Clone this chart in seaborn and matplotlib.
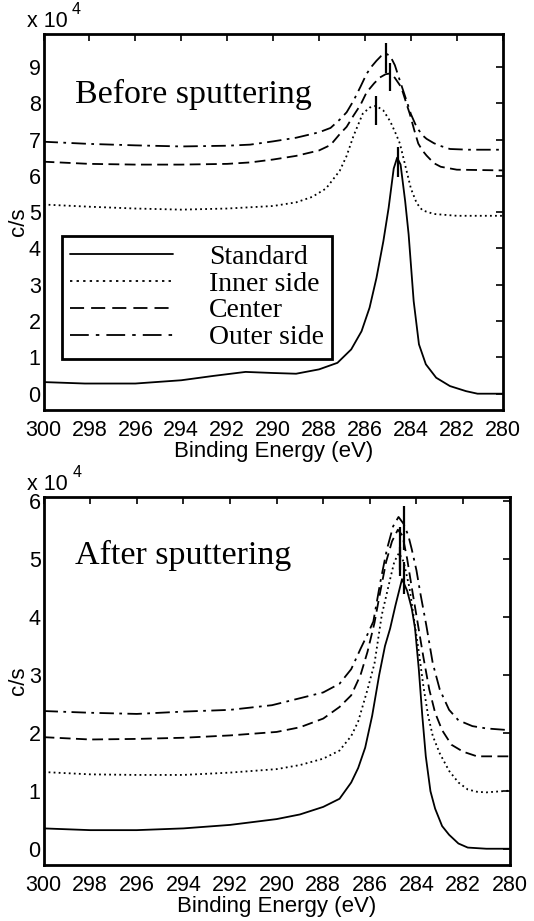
import numpy as np
import pandas as pd
import matplotlib
matplotlib.use("Agg")
import matplotlib.pyplot as plt
from matplotlib.lines import Line2D
import seaborn as sns

# ---- data (values in units of 1e4 c/s) ----
series_names = ["Standard", "Inner side", "Center", "Outer side"]

# Before sputtering
before_std_ev = [300, 298.2, 296, 294, 292.6, 291.2, 290, 289, 288, 287.2, 286.6, 286.15, 285.8, 285.5,
                 285.2, 284.97, 284.75, 284.6, 284.45, 284.25, 284.1, 283.88, 283.65, 283.35, 282.9,
                 282.3, 281.6, 281.1, 280]
before_std_cs = [0.32, 0.28, 0.28, 0.37, 0.49, 0.60, 0.57, 0.55, 0.67, 0.85, 1.22, 1.72, 2.37, 3.19,
                 4.2, 5.12, 6.2, 6.5, 6.31, 5.3, 4.39, 2.55, 1.36, 0.81, 0.44, 0.21, 0.07, 0.0, 0.0]

before_inner_ev = [300, 298, 296, 294, 292, 290, 289, 288.3, 287.7, 287.1, 286.8, 286.5, 286.1, 285.8,
                   285.52, 285.2, 284.9, 284.65, 284.48, 284.19, 284.0, 283.75, 283.5, 283, 282, 280]
before_inner_cs = [5.21, 5.15, 5.1, 5.07, 5.1, 5.17, 5.27, 5.42, 5.65, 6.14, 6.55, 7.1, 7.71, 7.88,
                   7.93, 7.8, 7.5, 7.15, 6.89, 6.14, 5.65, 5.25, 5.05, 4.95, 4.9, 4.9]

before_center_ev = [300, 298, 296, 294, 292, 291, 290, 289, 288, 287.5, 287.1, 286.8, 286.5, 286.2,
                    285.93, 285.6, 285.35, 285.1, 284.91, 284.7, 284.42, 284.2, 284.05, 283.85, 283.68,
                    283.5, 283.32, 283, 282.7, 282, 280]
before_center_cs = [6.39, 6.33, 6.31, 6.31, 6.33, 6.37, 6.45, 6.55, 6.7, 6.85, 7.15, 7.35, 7.66, 7.95,
                    8.3, 8.55, 8.71, 8.8, 8.82, 8.7, 8.44, 8.0, 7.71, 7.25, 6.89, 6.7, 6.56, 6.35,
                    6.25, 6.17, 6.15]

before_outer_ev = [300, 298, 296, 294, 292, 291, 290, 289, 288, 287.5, 287.1, 286.8, 286.5, 286.2,
                   285.93, 285.7, 285.5, 285.3, 285.09, 284.9, 284.7, 284.48, 284.19, 284, 283.75,
                   283.5, 283.32, 283, 282.74, 282.3, 281.5, 280]
before_outer_cs = [6.94, 6.88, 6.84, 6.81, 6.83, 6.86, 6.95, 7.05, 7.2, 7.32, 7.55, 7.75, 8.07, 8.45,
                   8.81, 9.02, 9.17, 9.3, 9.37, 9.3, 9.05, 8.62, 8.07, 7.7, 7.34, 7.12, 7.02, 6.9,
                   6.83, 6.74, 6.72, 6.72]

# After sputtering
after_std_ev = [300, 298, 296, 294, 292, 291, 290, 289, 288, 287.3, 286.8, 286.5, 286.2, 285.9, 285.6,
                285.35, 285.13, 284.9, 284.62, 284.4, 284.2, 284.06, 283.9, 283.75, 283.6, 283.4,
                283.2, 282.9, 282.6, 282.2, 281.8, 281, 280]
after_std_cs = [0.36, 0.33, 0.33, 0.36, 0.42, 0.47, 0.52, 0.6, 0.73, 0.87, 1.15, 1.4, 1.75, 2.3, 3.0,
                3.5, 3.8, 4.2, 4.65, 4.45, 4.14, 3.8, 3.1, 2.3, 1.6, 1.0, 0.7, 0.4, 0.25, 0.1, 0.03,
                0.01, 0.01]

after_inner_ev = [300, 298, 296, 294, 292, 290, 289, 288, 287.3, 286.8, 286.5, 286.1, 285.8, 285.49,
                  285.13, 284.95, 284.75, 284.55, 284.3, 284.1, 283.9, 283.7, 283.5, 283.3, 283,
                  282.6, 282.2, 281.8, 281.4, 281, 280]
after_inner_cs = [1.33, 1.29, 1.28, 1.28, 1.32, 1.38, 1.45, 1.56, 1.7, 1.95, 2.2, 2.75, 3.2, 4.03,
                  4.65, 4.95, 5.1, 4.95, 4.5, 3.95, 3.4, 2.8, 2.3, 1.95, 1.65, 1.35, 1.15, 1.03,
                  0.99, 0.98, 1.01]

after_center_ev = [300, 298, 296, 294, 292, 290, 289, 288, 287.3, 286.8, 286.4, 286.1, 285.8, 285.56,
                   285.3, 285.05, 284.8, 284.6, 284.4, 284.2, 283.95, 283.7, 283.45, 283.2, 282.9,
                   282.5, 282, 281.4, 280]
after_center_cs = [1.93, 1.89, 1.9, 1.92, 1.96, 2.02, 2.1, 2.25, 2.45, 2.65, 3.0, 3.4, 3.9, 4.42,
                   4.95, 5.3, 5.5, 5.4, 5.0, 4.5, 3.9, 3.3, 2.75, 2.35, 2.05, 1.8, 1.68, 1.6, 1.6]

after_outer_ev = [300, 298, 296, 294, 292, 290.2, 289, 288, 287.3, 286.8, 286.4, 286.1, 285.85,
                  285.55, 285.27, 285, 284.77, 284.55, 284.35, 284.2, 284, 283.84, 283.58, 283.3,
                  283, 282.6, 282.2, 281.6, 281, 280]
after_outer_cs = [2.38, 2.35, 2.33, 2.37, 2.4, 2.48, 2.6, 2.7, 2.85, 3.1, 3.45, 3.7, 3.92, 4.6,
                  5.16, 5.56, 5.72, 5.6, 5.4, 5.16, 4.8, 4.42, 3.86, 3.2, 2.75, 2.4, 2.22, 2.12,
                  2.08, 2.05]

# peak marker bars: position (eV), lower and upper end
before_mark_ev = [284.58, 285.52, 284.93, 285.09]
before_mark_lo = [5.96, 7.41, 8.33, 8.83]
before_mark_hi = [6.79, 8.21, 9.1, 9.66]
after_mark_ev = [284.52, 284.7, 284.7, 284.52]
after_mark_lo = [4.4, 4.7, 4.8, 5.15]
after_mark_hi = [4.95, 5.2, 5.55, 5.9]

x_ticks = list(range(300, 279, -2))

dash_map = {"Standard": "", "Inner side": (1, 1.8), "Center": (6, 3), "Outer side": (8, 3, 1.5, 3)}


def long_frame(pairs):
    frames = []
    for name, (ev, cs) in zip(series_names, pairs):
        frames.append(pd.DataFrame({"eV": ev, "cs": cs, "series": name}))
    return pd.concat(frames, ignore_index=True)


before_df = long_frame([(before_std_ev, before_std_cs), (before_inner_ev, before_inner_cs),
                        (before_center_ev, before_center_cs), (before_outer_ev, before_outer_cs)])
after_df = long_frame([(after_std_ev, after_std_cs), (after_inner_ev, after_inner_cs),
                       (after_center_ev, after_center_cs), (after_outer_ev, after_outer_cs)])

sns.set_style("white")
plt.rcParams["font.family"] = ["Liberation Sans", "DejaVu Sans"]
for key in ["text.color", "axes.labelcolor", "xtick.color", "ytick.color"]:
    plt.rcParams[key] = "black"

fig = plt.figure(figsize=(5.34, 9.21), dpi=100)
ax1 = fig.add_axes([0.0815, 0.5548, 0.860, 0.408])
ax2 = fig.add_axes([0.0815, 0.0608, 0.873, 0.400])

LW = 1.3


def draw_panel(ax, df, mark_ev, mark_lo, mark_hi, ylim, yticks, title, title_y):
    sns.lineplot(data=df, x="eV", y="cs", hue="series", style="series",
                 palette=["black"] * 4, dashes=dash_map, estimator=None, sort=False,
                 linewidth=LW, legend=False, ax=ax)
    ax.vlines(mark_ev, mark_lo, mark_hi, colors="black", linewidth=1.6)
    ax.set_xlim(300, 280)
    ax.set_ylim(*ylim)
    ax.set_xticks(x_ticks)
    ax.set_yticks(yticks)
    ax.tick_params(direction="in", top=True, right=True, length=5, width=1.2,
                   labelsize=15.5, pad=2)
    ax.tick_params(axis="x", pad=7)
    for sp in ax.spines.values():
        sp.set_linewidth(2.0)
        sp.set_color("black")
    ax.set_xlabel("Binding Energy (eV)", fontsize=16, labelpad=0)
    ax.set_ylabel("c/s", fontsize=16, labelpad=0)
    # exponent label, drawn as two pieces like the original
    ax.text(-0.036, 1.019, "x 10", transform=ax.transAxes, fontsize=15.5,
            ha="left", va="baseline")
    ax.text(0.062, 1.053, "4", transform=ax.transAxes, fontsize=11.5,
            ha="left", va="baseline")
    ax.text(0.068, title_y, title, transform=ax.transAxes, fontsize=24.5,
            family="Liberation Serif", ha="left", va="center")


draw_panel(ax1, before_df, before_mark_ev, before_mark_lo, before_mark_hi,
           (-0.45, 9.9), range(0, 10), "Before sputtering", 0.84)
draw_panel(ax2, after_df, after_mark_ev, after_mark_lo, after_mark_hi,
           (-0.27, 6.07), range(0, 7), "After sputtering", 0.84)

handles = [Line2D([], [], color="black", linewidth=LW,
                  dashes=tuple(d * LW for d in dash_map[n]) if dash_map[n] else (None, None))
           for n in series_names]
leg = ax1.legend(handles, series_names, loc="upper left", bbox_to_anchor=(0.04, 0.463),
                 borderaxespad=0, fancybox=False, framealpha=1, edgecolor="black",
                 prop={"family": "Liberation Serif", "size": 20},
                 handlelength=3.7, handletextpad=1.3, labelspacing=0.05, borderpad=0.3)
leg.get_frame().set_linewidth(2.0)

fig.savefig("out.png", dpi=100)
